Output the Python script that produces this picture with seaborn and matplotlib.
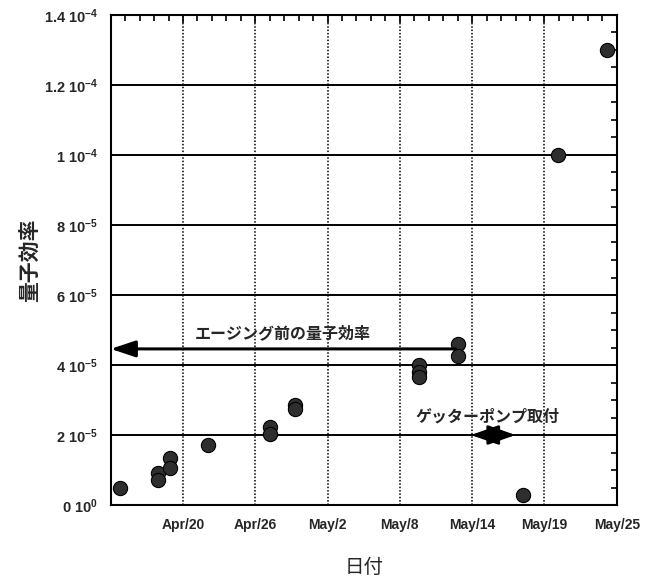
"""Quantum efficiency vs date chart."""

import matplotlib
matplotlib.use("Agg")
import matplotlib.pyplot as plt
import pandas as pd
import seaborn as sns
from matplotlib.ticker import MultipleLocator, FixedLocator

# data: x = days since Apr/14
days = [0.8, 3.9, 3.9, 4.9, 4.9, 8.1, 13.2, 13.2, 15.3, 15.3,
        25.6, 25.6, 25.6, 28.85, 28.85, 34.2, 37.1, 41.2]
qe = [4.9e-6, 9.1e-6, 7.1e-6, 1.34e-5, 1.06e-5, 1.71e-5, 2.23e-5, 2.03e-5,
      2.86e-5, 2.74e-5, 4.0e-5, 3.8e-5, 3.66e-5, 4.6e-5, 4.26e-5,
      2.9e-6, 1.0e-4, 1.3e-4]

x_ticks = [0, 6, 12, 18, 24, 30, 36, 42]
x_labels = ['', 'Apr/20', 'Apr/26', 'May/2', 'May/8', 'May/14', 'May/19', 'May/25']
y_ticks = [0, 2e-5, 4e-5, 6e-5, 8e-5, 1e-4, 1.2e-4, 1.4e-4]
y_labels = [r'0 10$^{0}$', r'2 10$^{-5}$', r'4 10$^{-5}$', r'6 10$^{-5}$',
            r'8 10$^{-5}$', r'1 10$^{-4}$', r'1.2 10$^{-4}$', r'1.4 10$^{-4}$']

aging_level = 4.46e-5
aging_start = 28.6
getter_mid = 31.9
getter_span = (29.9, 33.6)

sns.set_style("white")
plt.rcParams['font.family'] = ['Liberation Sans', 'Noto Sans CJK JP', 'DejaVu Sans']
plt.rcParams['mathtext.fontset'] = 'custom'
plt.rcParams['mathtext.rm'] = 'Liberation Sans:bold'
plt.rcParams['mathtext.it'] = 'Liberation Sans:bold'
plt.rcParams['mathtext.bf'] = 'Liberation Sans:bold'

df = pd.DataFrame({'day': days, 'qe': qe})

fig = plt.figure(figsize=(6.54, 5.79), dpi=100)
ax = fig.add_axes([0.1693, 0.1278, 0.7737, 0.8463])

# grid first so points sit on top
for yv in y_ticks[1:-1]:
    ax.axhline(yv, color='black', lw=1.4, zorder=1)
for xv in x_ticks[1:-1]:
    ax.axvline(xv, color='black', lw=1.1, ls=(0, (1, 1.2)), zorder=1)

sns.scatterplot(data=df, x='day', y='qe', ax=ax, s=105, color='#2e2e2e',
                edgecolor='black', linewidth=0.8, zorder=3)

ax.set_xlim(0, 42)
ax.set_ylim(0, 1.4e-4)
ax.xaxis.set_major_locator(FixedLocator(x_ticks))
ax.set_xticklabels(x_labels)
ax.xaxis.set_minor_locator(MultipleLocator(1.2))
ax.yaxis.set_major_locator(FixedLocator(y_ticks))
ax.set_yticklabels(y_labels)
ax.yaxis.set_minor_locator(MultipleLocator(5e-6))

ax.tick_params(which='both', direction='in', top=True, right=True, color='black')
ax.tick_params(which='major', length=6, width=1.2)
ax.tick_params(which='minor', length=4, width=1.2)
ax.tick_params(axis='x', which='major', pad=9)
ax.tick_params(axis='y', which='major', pad=9)
for lab in ax.get_xticklabels():
    lab.set_fontsize(10)
    lab.set_fontweight('bold')
for lab in ax.get_yticklabels():
    lab.set_fontsize(10.5)
    lab.set_fontweight('bold')

for sp in ax.spines.values():
    sp.set_color('black')
    sp.set_linewidth(1.5)

ax.set_xlabel('日付', fontsize=14, family=['Noto Sans CJK JP'], labelpad=18)
ax.set_ylabel('量子効率', fontsize=15, family=['Noto Sans CJK JP'],
              fontweight='bold', labelpad=3)

# aging arrow
ax.annotate('', xy=(0, aging_level), xytext=(aging_start, aging_level),
            arrowprops=dict(arrowstyle='-|>,head_length=0.75,head_width=0.25',
                            mutation_scale=20, color='black', lw=2.2,
                            shrinkA=0, shrinkB=0), zorder=4)
ax.text(14.3, 4.9e-5, 'エージング前の量子効率', ha='center', va='center',
        fontsize=11.5, fontweight='bold', family=['Noto Sans CJK JP'])

# getter pump arrows
for end in getter_span:
    ax.annotate('', xy=(end, 2e-5), xytext=(getter_mid, 2e-5),
                arrowprops=dict(arrowstyle='-|>,head_length=0.85,head_width=0.3',
                                mutation_scale=20, color='black', lw=2,
                                shrinkA=0, shrinkB=0), zorder=4)
ax.text(31.3, 2.52e-5, 'ゲッターポンプ取付', ha='center', va='center',
        fontsize=11.5, fontweight='bold', family=['Noto Sans CJK JP'])

fig.savefig('out.png', dpi=100)
